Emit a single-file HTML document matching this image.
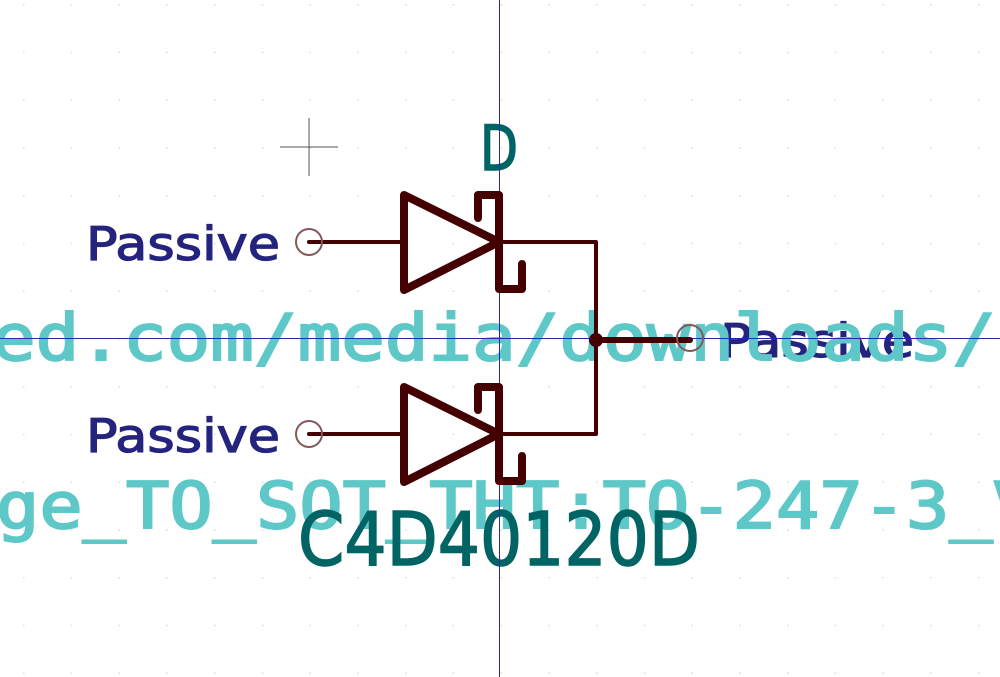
<!DOCTYPE html>
<html><head><meta charset="utf-8"><style>
html,body{margin:0;padding:0;background:#fff;width:1000px;height:677px;overflow:hidden}
svg{display:block}
text{font-family:"DejaVu Sans","Liberation Sans",sans-serif}
</style></head><body>
<svg width="1000" height="677" viewBox="0 0 1000 677" xmlns="http://www.w3.org/2000/svg">
<defs>
<pattern id="g" x="23" y="4" width="47.75" height="47.75" patternUnits="userSpaceOnUse">
<rect x="0" y="0" width="1.5" height="1.5" fill="#dcdcdc"/>
</pattern>
</defs>
<rect width="1000" height="677" fill="url(#g)"/>
<line x1="280" y1="147" x2="338" y2="147" stroke="#555" stroke-width="1"/>
<line x1="309" y1="118" x2="309" y2="176" stroke="#555" stroke-width="1"/>
<g fill="#24247e" stroke="#24247e" stroke-width="1.2" font-size="46">
<text x="86" y="260" textLength="194" lengthAdjust="spacingAndGlyphs">Passive</text>
<text x="86" y="452" textLength="194" lengthAdjust="spacingAndGlyphs">Passive</text>
<text x="720" y="357" textLength="194" lengthAdjust="spacingAndGlyphs">Passive</text>
</g>
<text x="480" y="170" fill="#006464" stroke="#006464" stroke-width="1.5" font-size="62" textLength="38" lengthAdjust="spacingAndGlyphs">D</text>
<g fill="#5ec8c8" stroke="#5ec8c8" stroke-width="2" font-size="64">
<text x="-8" y="360" textLength="1004" lengthAdjust="spacingAndGlyphs" style="font-family:'DejaVu Sans Mono',monospace">ed.com/media/downloads/</text>
<text x="-4" y="528" textLength="1040" lengthAdjust="spacingAndGlyphs" style="font-family:'DejaVu Sans Mono',monospace">ge_TO_SOT_THT:TO-247-3_V</text>
</g>
<text x="298" y="565" fill="#006464" stroke="#006464" stroke-width="1.5" font-size="74" textLength="402" lengthAdjust="spacingAndGlyphs">C4D40120D</text>
<line x1="499.5" y1="0" x2="499.5" y2="677" stroke="#2828a8" stroke-width="1"/>
<line x1="0" y1="338.5" x2="1000" y2="338.5" stroke="#2828a8" stroke-width="1"/>
<g fill="none" stroke="#440000" stroke-linecap="round" stroke-linejoin="round">
<path d="M309 242 H402 M309 434 H402" stroke-width="4"/>
<path d="M500 242 H596 V434 H500" stroke-width="4"/>
<path d="M596 340 H690" stroke-width="6"/>
<path d="M404 195 L404 290 L499 242 Z" stroke-width="8"/>
<path d="M478 218 V195 H499 V289 H522 V264" stroke-width="8"/>
<path d="M404 387 L404 482 L499 434 Z" stroke-width="8"/>
<path d="M478 410 V387 H499 V481 H522 V456" stroke-width="8"/>
</g>
<circle cx="596" cy="340" r="7" fill="#440000"/>
<g fill="none" stroke="#845858" stroke-width="2">
<circle cx="309" cy="242" r="13"/>
<circle cx="309" cy="434" r="13"/>
<circle cx="690" cy="338" r="13"/>
</g>
</svg>
</body></html>
